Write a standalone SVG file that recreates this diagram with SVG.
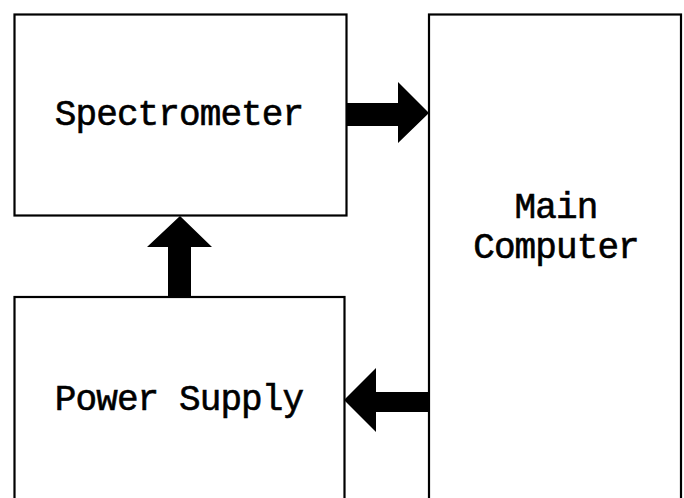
<svg xmlns="http://www.w3.org/2000/svg" width="684" height="498" viewBox="0 0 684 498">
<style>
.box{fill:#fff;stroke:#000;stroke-width:2.2}
.lbl{font-family:"Liberation Mono","DejaVu Sans Mono",monospace;font-size:36px;letter-spacing:-0.9px;fill:#000;stroke:#000;stroke-width:0.6;text-anchor:middle}
.arr{fill:#000;stroke:none}
</style>
<rect width="684" height="498" fill="#fff"/>
<g id="spectrometer">
<rect class="box" x="14.5" y="14.5" width="332" height="201"/>
<text class="lbl" x="179" y="125">Spectrometer</text>
</g>
<g id="main-computer">
<rect class="box" x="429" y="14.5" width="252" height="500"/>
<text class="lbl" x="556" y="218">Main</text>
<text class="lbl" x="556" y="258">Computer</text>
</g>
<g id="power-supply">
<rect class="box" x="14.5" y="297" width="330" height="220"/>
<text class="lbl" x="179" y="410">Power Supply</text>
</g>
<g id="connectors">
<polygon class="arr" points="347,103 398,103 398,82 429,113 398,143 398,126 347,126"/>
<polygon class="arr" points="168,296 168,247 147,247 180,216 212,247 191,247 191,296"/>
<polygon class="arr" points="428,392 376,392 376,368 344,400 376,432 376,412 428,412"/>
</g>
</svg>
